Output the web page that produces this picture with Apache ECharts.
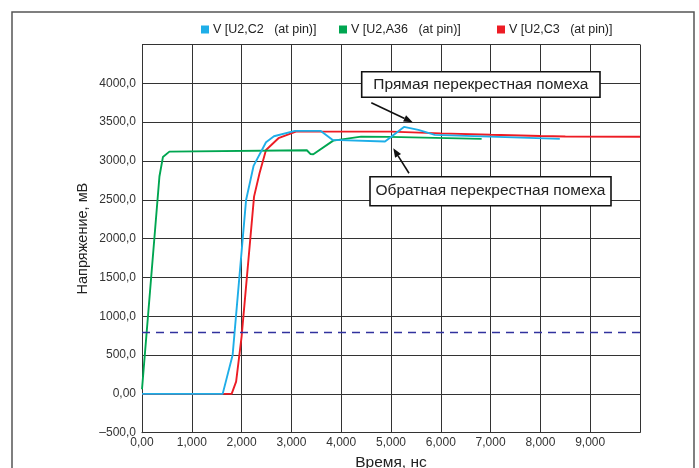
<!DOCTYPE html>
<html>
<head>
<meta charset="utf-8">
<script src="https://cdn.jsdelivr.net/npm/echarts@6/dist/echarts.min.js"></script>
<style>
html,body{margin:0;padding:0;background:#fff;}
#chart{width:699px;height:468px;}
</style>
</head>
<body>
<div id="chart"></div>
<script>
// ---- data ----
const seriesNames = ['V [U2,C2   (at pin)]', 'V [U2,A36   (at pin)]', 'V [U2,C3   (at pin)]'];
const timeC2 = [0, 1.62, 1.82, 2.09, 2.24, 2.49, 2.65, 3.07, 3.59, 3.83, 4.88, 5.26, 5.55, 5.88, 8.39];
const voltC2 = [0, 0, 502, 2498, 2936, 3241, 3318, 3387, 3387, 3271, 3250, 3439, 3400, 3336, 3284];
const timeA36 = [0, 0.35, 0.42, 0.55, 3.31, 3.38, 3.44, 3.84, 4.40, 4.96, 6.82];
const voltA36 = [60, 2800, 3050, 3120, 3138, 3090, 3087, 3262, 3314, 3310, 3284];
const timeC3 = [0, 1.80, 1.89, 2.00, 2.25, 2.36, 2.49, 2.74, 3.09, 5.0, 6.0, 7.0, 8.0, 8.5, 10];
const voltC3 = [0, 0, 158, 738, 2541, 2842, 3142, 3293, 3378, 3378, 3355, 3338, 3322, 3315, 3312];
const thresholdLevel = 800;
const annotationTexts = ['Прямая перекрестная помеха', 'Обратная перекрестная помеха'];
const xTickLabels = ['0,00', '1,000', '2,000', '3,000', '4,000', '5,000', '6,000', '7,000', '8,000', '9,000'];
const yTickLabels = {'-500': '\u2013500,0', '0': '0,00', '500': '500,0', '1000': '1000,0', '1500': '1500,0', '2000': '2000,0', '2500': '2500,0', '3000': '3000,0', '3500': '3500,0', '4000': '4000,0'};

const zip = (a, b) => a.map((x, i) => [x, b[i]]);
const colors = ['#1eaee8', '#00a651', '#ed1c24'];

const chart = echarts.init(document.getElementById('chart'));
const font = 'Liberation Sans, Arial, sans-serif';

function legendFor(i, left) {
  return {
    data: [{name: seriesNames[i], icon: 'rect'}],
    left: left, top: 23,
    itemWidth: 8, itemHeight: 8, itemGap: 0,
    textStyle: {fontFamily: font, fontSize: 12.5, color: '#222', padding: [0,0,0,-1]},
    padding: 0
  };
}

function arrow(x1, y1, x2, y2) {
  const ang = Math.atan2(y2 - y1, x2 - x1);
  const L = 9, W = 3.5;
  const bx = x2 - L * Math.cos(ang), by = y2 - L * Math.sin(ang);
  const px = -Math.sin(ang) * W, py = Math.cos(ang) * W;
  return [
    {type: 'line', shape: {x1: x1, y1: y1, x2: bx, y2: by}, style: {stroke: '#111', lineWidth: 1.6}, z: 100},
    {type: 'polygon', shape: {points: [[x2, y2], [bx + px, by + py], [bx - px, by - py]]}, style: {fill: '#111'}, z: 100}
  ];
}

function box(x, y, w, h, text) {
  return [
    {type: 'rect', shape: {x: x, y: y, width: w, height: h}, style: {fill: '#fff', stroke: '#111', lineWidth: 1.6}, z: 100},
    {type: 'text', x: x + w / 2, y: y + h / 2, style: {text: text, fill: '#222', font: '15.5px ' + font, align: 'center', verticalAlign: 'middle'}, z: 101}
  ];
}

const option = {
  animation: false,
  backgroundColor: '#fff',
  color: colors,
  legend: [legendFor(0, 201), legendFor(1, 339), legendFor(2, 497)],
  grid: {left: 142, right: 59, top: 44.5, bottom: 35.3, containLabel: false, outerBoundsMode: 'none'},
  xAxis: {
    type: 'value', min: 0, max: 10, interval: 1,
    name: 'Время, нс', nameLocation: 'middle', nameGap: 22,
    nameTextStyle: {fontFamily: font, fontSize: 15.5, color: '#222'},
    axisLine: {show: true, onZero: false, lineStyle: {color: '#333', width: 1}},
    axisTick: {show: false},
    splitLine: {show: true, lineStyle: {color: '#333', width: 1}},
    axisLabel: {
      fontFamily: font, fontSize: 12, color: '#333', margin: 4, showMaxLabel: false,
      formatter: v => (Math.round(v) < xTickLabels.length ? xTickLabels[Math.round(v)] : '')
    }
  },
  yAxis: {
    type: 'value', min: -500, max: 4500, interval: 500,
    name: 'Напряжение, мВ', nameLocation: 'middle', nameGap: 52, nameRotate: 90, nameMoveOverlap: false,
    nameTextStyle: {fontFamily: font, fontSize: 14.5, color: '#222'},
    axisLine: {show: true, lineStyle: {color: '#333', width: 1}},
    axisTick: {show: false},
    splitLine: {show: true, lineStyle: {color: '#333', width: 1}},
    axisLabel: {
      fontFamily: font, fontSize: 12, color: '#333', margin: 6, showMaxLabel: false,
      formatter: v => (yTickLabels[String(v)] || '')
    }
  },
  series: [
    {name: seriesNames[0], type: 'line', data: zip(timeC2, voltC2), showSymbol: false, lineStyle: {width: 1.9, color: colors[0]}, z: 3,
     markLine: {silent: true, symbol: 'none', label: {show: false},
       lineStyle: {color: '#31329e', type: [8, 6], width: 1.4}, data: [{yAxis: thresholdLevel}]}},
    {name: seriesNames[1], type: 'line', data: zip(timeA36, voltA36), showSymbol: false, lineStyle: {width: 1.9, color: colors[1]}, z: 2},
    {name: seriesNames[2], type: 'line', data: zip(timeC3, voltC3), showSymbol: false, lineStyle: {width: 1.9, color: colors[2]}, z: 1}
  ],
  graphic: [
    {type: 'rect', shape: {x: 12, y: 12, width: 682, height: 470}, style: {fill: 'none', stroke: '#555', lineWidth: 1.5}, z: -1, silent: true},
    ...box(361.7, 71.7, 238.3, 25.6, annotationTexts[0]),
    ...box(370, 176.7, 241, 29, annotationTexts[1]),
    ...arrow(371.3, 102.7, 412.7, 122.3),
    ...arrow(409, 173.3, 393.3, 148.3)
  ]
};
chart.setOption(option);
</script>
</body>
</html>
